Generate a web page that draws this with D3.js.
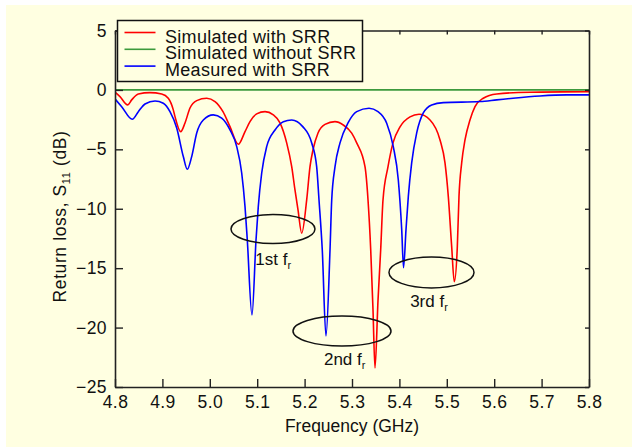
<!DOCTYPE html>
<html>
<head>
<meta charset="utf-8">
<script src="https://cdn.jsdelivr.net/npm/d3@7"></script>
<style>
  body { margin: 0; background: #fff; }
  text { font-family: "Liberation Sans", Arial, sans-serif; fill: #111; }
</style>
</head>
<body>
<script>
// frequency in GHz, return loss in dB
const simWithSRR = [
  [4.800, -0.19], [4.8105, -0.56], [4.8268, -1.26], [4.8352, -0.84], [4.8492, -0.34],
  [4.8738, -0.23], [4.8985, -0.34], [4.9124, -0.70], [4.9230, -1.68], [4.9266, -2.25],
  [4.9386, -3.51], [4.9477, -2.78], [4.9582, -1.52], [4.9724, -0.90], [4.9935, -0.70],
  [5.0110, -0.98], [5.0278, -1.83], [5.0426, -3.09], [5.0601, -4.57], [5.0743, -3.51],
  [5.0848, -2.67], [5.0989, -2.02], [5.1165, -1.83], [5.1340, -2.10], [5.1481, -2.78],
  [5.1622, -4.46], [5.1728, -6.46], [5.1797, -8.42], [5.1861, -10.10], [5.1939, -12.06],
  [5.2044, -9.26], [5.2114, -6.46], [5.2177, -5.05], [5.2283, -3.62], [5.2430, -2.90],
  [5.2641, -2.67], [5.2816, -2.95], [5.2994, -3.64], [5.3099, -4.46], [5.3274, -6.46],
  [5.3338, -9.26], [5.3395, -13.47], [5.3443, -18.5], [5.3485, -23.40], [5.3549, -17.68],
  [5.3605, -13.47], [5.3654, -9.26], [5.3759, -6.48], [5.3865, -4.46], [5.4013, -3.11],
  [5.4224, -2.27], [5.4414, -2.05], [5.4646, -2.53], [5.4857, -4.21], [5.4962, -6.14],
  [5.5032, -8.98], [5.5103, -13.19], [5.5158, -16.14], [5.5222, -13.19], [5.5257, -8.98],
  [5.5314, -6.14], [5.5384, -4.21], [5.5489, -2.53], [5.5595, -1.41], [5.5770, -0.70],
  [5.6053, -0.34], [5.6755, -0.19], [5.800, -0.14]
];

const simWithoutSRR = [[4.8, 0], [5.0, 0], [5.2, 0], [5.4, 0], [5.6, 0], [5.8, 0]];

const measWithSRR = [
  [4.800, -0.76], [4.8141, -1.41], [4.8365, -2.47], [4.8492, -1.83], [4.8633, -1.18],
  [4.8844, -0.93], [4.9019, -1.12], [4.9160, -1.83], [4.9302, -3.20], [4.9441, -5.61],
  [4.9525, -6.68], [4.9618, -5.61], [4.9724, -3.62], [4.9863, -2.53], [5.0074, -2.10],
  [5.0251, -2.38], [5.0426, -3.37], [5.0568, -4.77], [5.0673, -6.99], [5.0743, -9.82],
  [5.0791, -12.63], [5.0890, -18.94], [5.0975, -12.63], [5.1023, -9.82], [5.1095, -6.99],
  [5.1200, -4.77], [5.1376, -3.37], [5.1551, -2.67], [5.1728, -2.53], [5.1966, -3.11],
  [5.2150, -4.46], [5.2255, -6.48], [5.2304, -9.26], [5.2373, -13.47], [5.2451, -20.71],
  [5.2536, -13.47], [5.2572, -9.26], [5.2641, -6.48], [5.2747, -4.46], [5.2916, -2.78],
  [5.3099, -1.83], [5.3359, -1.54], [5.3549, -1.83], [5.3732, -2.80], [5.3871, -4.77],
  [5.3977, -7.58], [5.4049, -11.78], [5.4087, -14.96], [5.4139, -11.78], [5.4188, -8.98],
  [5.4259, -6.14], [5.4365, -3.62], [5.4504, -1.94], [5.4681, -1.26], [5.4926, -1.07],
  [5.5700, -0.98], [5.6053, -0.84], [5.6397, -0.70], [5.6966, -0.51], [5.7530, -0.42],
  [5.800, -0.42]
];

const seriesNames = ["Simulated with SRR", "Simulated without SRR", "Measured with SRR"];
const seriesColors = ["#ff0000", "#3c9a3c", "#0000ff"];

const xTicks = [4.8, 4.9, 5.0, 5.1, 5.2, 5.3, 5.4, 5.5, 5.6, 5.7, 5.8];
const yTicks = [-25, -20, -15, -10, -5, 0, 5];

// resonance markers: centre (GHz, dB), half-width (GHz), half-height (dB)
const markerLabels = ["1st", "2nd", "3rd"];
const markerCentres = [[5.1333, -11.70], [5.2789, -20.29], [5.4677, -15.36]];
const markerRadii = [[0.0886, 1.22], [0.1034, 1.26], [0.0897, 1.30]];
const markerTextPos = [[5.1339, -14.73], [5.2846, -23.15], [5.4624, -18.24]];

const W = 632, H = 447;
const margin = { top: 30.5, right: 43, bottom: 60, left: 115 };
const font = "Liberation Sans, Arial, sans-serif";

const svg = d3.select("body").append("svg")
  .attr("width", W)
  .attr("height", H);

// yellow figure background
svg.append("rect")
  .attr("x", 6).attr("y", 5)
  .attr("width", W - 6).attr("height", H - 5)
  .attr("fill", "#ffffe1");

const x = d3.scaleLinear().domain([4.8, 5.8]).range([margin.left, W - margin.right]);
const y = d3.scaleLinear().domain([-25, 5]).range([H - margin.bottom, margin.top]);

// clip for curves
svg.append("clipPath").attr("id", "plot")
  .append("rect")
  .attr("x", x(4.8)).attr("y", y(5))
  .attr("width", x(5.8) - x(4.8)).attr("height", y(-25) - y(5));

const line = d3.line()
  .x(d => x(d[0]))
  .y(d => y(d[1]))
  .curve(d3.curveMonotoneX);

const curves = svg.append("g").attr("clip-path", "url(#plot)");
[simWithSRR, simWithoutSRR, measWithSRR].forEach((data, i) => {
  curves.append("path")
    .datum(data)
    .attr("fill", "none")
    .attr("stroke", seriesColors[i])
    .attr("stroke-width", 1.6)
    .attr("stroke-linejoin", "round")
    .attr("d", line);
});

// axes (ticks pointing inward)
const axisColor = "#222";
const axBottom = svg.append("g")
  .attr("transform", "translate(0," + y(-25) + ")")
  .call(d3.axisBottom(x).tickValues(xTicks).tickFormat(d3.format(".1f")).tickSizeInner(-8).tickSizeOuter(0).tickPadding(6));
const axLeft = svg.append("g")
  .attr("transform", "translate(" + x(4.8) + ",0)")
  .call(d3.axisLeft(y).tickValues(yTicks).tickSizeInner(-8).tickSizeOuter(0).tickPadding(8));
const axTop = svg.append("g")
  .attr("transform", "translate(0," + y(5) + ")")
  .call(d3.axisTop(x).tickValues(xTicks).tickSizeInner(-4).tickSizeOuter(0).tickFormat(""));
const axRight = svg.append("g")
  .attr("transform", "translate(" + x(5.8) + ",0)")
  .call(d3.axisRight(y).tickValues(yTicks).tickSizeInner(-4).tickSizeOuter(0).tickFormat(""));

[axBottom, axLeft, axTop, axRight].forEach(g => {
  g.select(".domain").attr("stroke", axisColor).attr("stroke-width", 1.6);
  g.selectAll(".tick line").attr("stroke", axisColor).attr("stroke-width", 1.4);
  g.selectAll("text").attr("font-size", 17.5).attr("fill", "#111")
    .attr("font-family", font).attr("letter-spacing", 0.4);
});
axBottom.selectAll("text").attr("dy", "0.85em");

// axis titles
svg.append("text")
  .attr("x", (x(4.8) + x(5.8)) / 2)
  .attr("y", 432)
  .attr("text-anchor", "middle")
  .style("font-size", "17.5px")
  .text("Frequency (GHz)");

const yTitle = svg.append("text")
  .attr("transform", "translate(66,216.5) rotate(-90)")
  .attr("text-anchor", "middle")
  .attr("letter-spacing", 0.6)
  .style("font-size", "17.5px");
yTitle.append("tspan").text("Return loss, S");
yTitle.append("tspan").attr("dy", 4).style("font-size", "11px").text("11");
yTitle.append("tspan").attr("dy", -4).text(" (dB)");

// resonance ellipses and labels
markerCentres.forEach((c, i) => {
  svg.append("ellipse")
    .attr("cx", x(c[0])).attr("cy", y(c[1]))
    .attr("rx", x(c[0] + markerRadii[i][0]) - x(c[0]))
    .attr("ry", y(c[1] - markerRadii[i][1]) - y(c[1]))
    .attr("fill", "none")
    .attr("stroke", "#111")
    .attr("stroke-width", 1.5);
  const t = svg.append("text")
    .attr("x", x(markerTextPos[i][0]))
    .attr("y", y(markerTextPos[i][1]))
    .attr("text-anchor", "middle")
    .style("font-size", "17px");
  t.append("tspan").text(markerLabels[i] + " f");
  t.append("tspan").attr("dy", 4).style("font-size", "11px").text("r");
});

// legend
const legend = svg.append("g");
legend.append("rect")
  .attr("x", 117.5).attr("y", 20.5)
  .attr("width", 245).attr("height", 61)
  .attr("fill", "#ffffe1")
  .attr("stroke", "#111")
  .attr("stroke-width", 1.5);
seriesNames.forEach((name, i) => {
  legend.append("line")
    .attr("x1", 124.5).attr("x2", 155.5)
    .attr("y1", 32.5 + i * 16.8).attr("y2", 32.5 + i * 16.8)
    .attr("stroke", seriesColors[i])
    .attr("stroke-width", 1.6);
  legend.append("text")
    .attr("x", 165).attr("y", 42.5 + i * 16.6)
    .attr("letter-spacing", 0.3)
    .style("font-size", "18px")
    .text(name);
});
</script>
</body>
</html>
